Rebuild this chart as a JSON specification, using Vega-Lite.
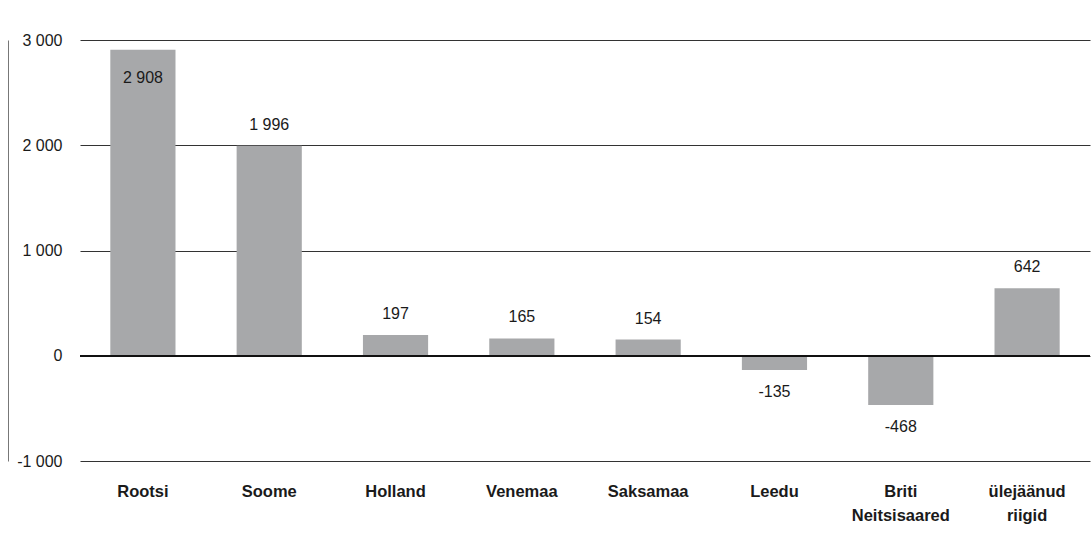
{
  "$schema": "https://vega.github.io/schema/vega-lite/v6.json",
  "autosize": {"type": "none"},
  "padding": {"left": 80, "top": 40, "right": 2, "bottom": 72},
  "width": 1010,
  "height": 421,
  "data": {"values": [
    {"country": "Rootsi", "value": 2908},
    {"country": "Soome", "value": 1996},
    {"country": "Holland", "value": 197},
    {"country": "Venemaa", "value": 165},
    {"country": "Saksamaa", "value": 154},
    {"country": "Leedu", "value": -135},
    {"country": "Briti Neitsisaared", "value": -468},
    {"country": "ülejäänud riigid", "value": 642}
  ]},
  "encoding": {
    "x": {"field": "country", "type": "nominal", "sort": null,
      "scale": {"paddingInner": 0.484, "paddingOuter": 0.24},
      "axis": {"title": null, "domain": false, "ticks": false, "labelAngle": 0,
        "labelExpr": "split(datum.value, ' ')", "labelPadding": 22,
        "labelFont": "Liberation Sans", "labelFontSize": 16.5, "labelFontWeight": "bold",
        "labelColor": "#1a1a1a", "labelLineHeight": 24, "labelBaseline": "top"}},
    "y": {"field": "value", "type": "quantitative",
      "scale": {"domain": [-1000, 3000], "nice": false},
      "axis": {"title": null, "values": [-1000, 0, 1000, 2000, 3000], "format": ",d",
        "offset": 72, "domain": true, "domainColor": "#777", "domainWidth": 1,
        "ticks": false, "labelAlign": "right", "labelPadding": -54,
        "labelFont": "Liberation Sans", "labelFontSize": 16, "labelColor": "#1a1a1a",
        "grid": true, "gridColor": "#333", "gridWidth": 1}}
  },
  "layer": [
    {"mark": {"type": "bar", "color": "#a7a8aa"}},
    {"mark": {"type": "rule", "color": "#111", "strokeWidth": 1.6},
     "encoding": {"x": null, "y": {"datum": 0, "type": "quantitative"}}},
    {"transform": [{"filter": "datum.value > 0 && datum.value < 2500"}],
     "mark": {"type": "text", "dy": -21, "font": "Liberation Sans", "fontSize": 16, "color": "#1a1a1a"},
     "encoding": {"text": {"field": "value", "type": "quantitative", "format": ",d"}}},
    {"transform": [{"filter": "datum.value >= 2500"}],
     "mark": {"type": "text", "dy": 28, "font": "Liberation Sans", "fontSize": 16, "color": "#1a1a1a"},
     "encoding": {"text": {"field": "value", "type": "quantitative", "format": ",d"}}},
    {"transform": [{"filter": "datum.value < 0"}],
     "mark": {"type": "text", "dy": 22, "font": "Liberation Sans", "fontSize": 16, "color": "#1a1a1a"},
     "encoding": {"text": {"field": "value", "type": "quantitative", "format": ",d"}}}
  ],
  "config": {
    "view": {"stroke": null},
    "locale": {"number": {"decimal": ",", "thousands": " ", "grouping": [3], "currency": ["", ""], "minus": "-"}}
  }
}
